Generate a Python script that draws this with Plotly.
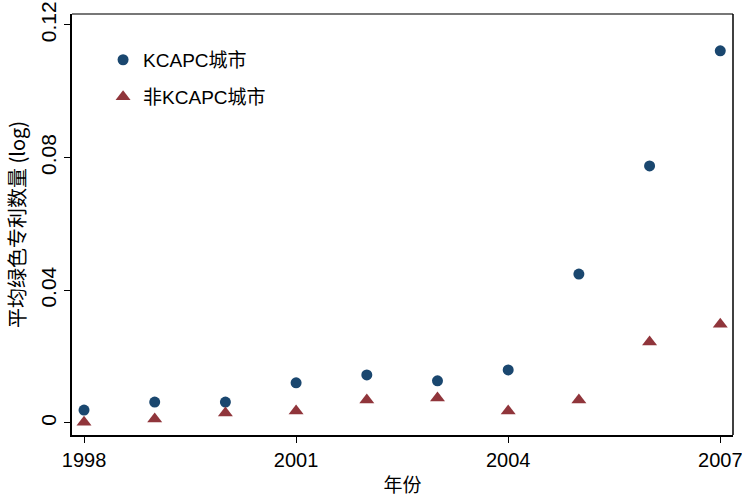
import plotly.graph_objects as go

years = [1998, 1999, 2000, 2001, 2002, 2003, 2004, 2005, 2006, 2007]
kcapc = [0.0039, 0.0063, 0.0063, 0.0121, 0.0145, 0.0127, 0.0160, 0.0449, 0.0775, 0.1122]
non_kcapc = [0.0002, 0.0012, 0.0030, 0.0036, 0.0069, 0.0075, 0.0036, 0.0069, 0.0244, 0.0298]
x_ticks = [1998, 2001, 2004, 2007]
y_ticks = [0, 0.04, 0.08, 0.12]
y_tick_labels = ["0", "0.04", "0.08", "0.12"]

NAVY = "#1a476f"
MAROON = "#90353b"
FONT = "Liberation Sans, Arial, Noto Sans CJK SC, sans-serif"
CJK = "Noto Sans CJK SC, sans-serif"

fig = go.Figure()
fig.add_trace(go.Scatter(x=years, y=kcapc, mode="markers", name="KCAPC城市",
                         marker=dict(symbol="circle", size=11, color=NAVY), legend="legend"))
fig.add_trace(go.Scatter(x=years, y=non_kcapc, mode="markers", name="非KCAPC城市",
                         marker=dict(symbol="triangle-up", size=13, color=MAROON), legend="legend2"))

leg_common = dict(xanchor="left", yanchor="middle",
                  font=dict(family=FONT, size=19, color="black"),
                  bgcolor="rgba(0,0,0,0)", itemwidth=30)

fig.update_layout(
    width=742, height=504,
    margin=dict(l=72, r=9, t=14, b=69),
    paper_bgcolor="white", plot_bgcolor="white",
    font=dict(family=FONT, size=20, color="black"),
    showlegend=True,
    legend=dict(x=0.047, y=0.891, **leg_common),
    legend2=dict(x=0.047, y=0.803, **leg_common),
    xaxis=dict(range=[1997.83, 2007.18], tickvals=x_ticks, ticktext=[str(v) for v in x_ticks],
               showgrid=False, zeroline=False, showline=True, linecolor="black", linewidth=2,
               ticks="outside", ticklen=6, tickwidth=1, tickcolor="black",
               tickfont=dict(size=20), automargin=False, ticklabeloverflow="allow",
               title=dict(text="年份", font=dict(family=CJK, size=19), standoff=9)),
    yaxis=dict(range=[-0.00362, 0.1233], tickvals=y_ticks, ticktext=y_tick_labels,
               showgrid=False, zeroline=False, showline=True, linecolor="black", linewidth=2,
               ticks="outside", ticklen=6, tickwidth=1, tickcolor="black",
               tickangle=-90, tickfont=dict(size=21), automargin=False, ticklabeloverflow="allow",
               title=dict(text="平均绿色专利数量 (log)", font=dict(family=CJK, size=20), standoff=6)),
)

# top (gray) and right (black) frame lines
fig.add_shape(type="line", xref="paper", yref="paper", x0=0, x1=1, y0=1, y1=1,
              line=dict(color="#777777", width=2))
fig.add_shape(type="line", xref="paper", yref="paper", x0=1, x1=1, y0=0, y1=1,
              line=dict(color="black", width=1.5))

fig.write_html("out.html", config={"displayModeBar": False},
               post_script="document.body.style.margin='0';")
